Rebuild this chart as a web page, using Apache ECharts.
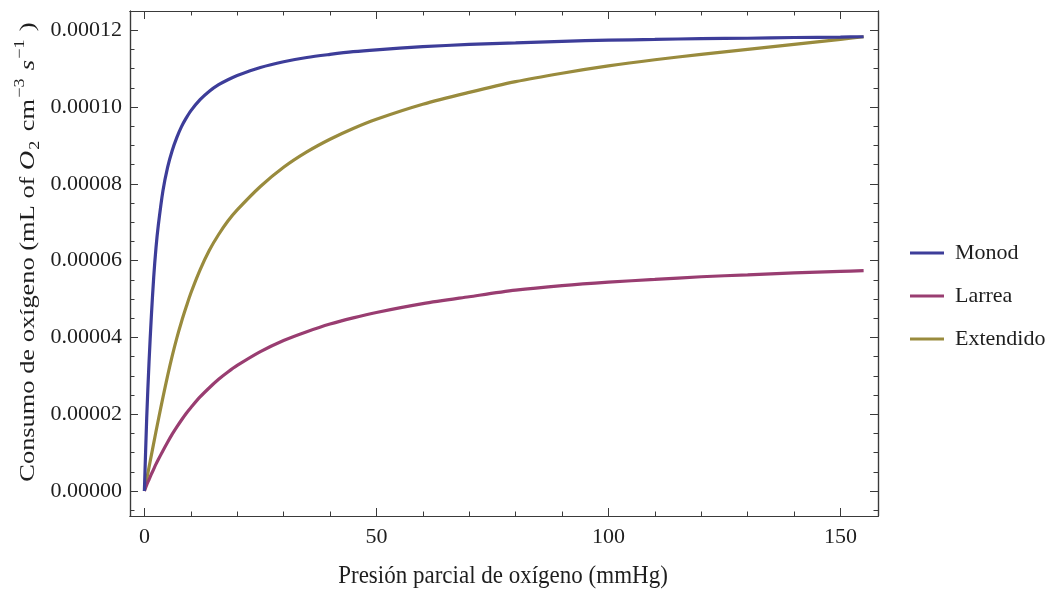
<!DOCTYPE html>
<html>
<head>
<meta charset="utf-8">
<title>Consumo de oxígeno</title>
<script src="https://cdn.jsdelivr.net/npm/echarts@6/dist/echarts.min.js"></script>
<style>
  html, body { margin: 0; padding: 0; background: #ffffff; }
  #chart { width: 1051px; height: 590px; }
</style>
</head>
<body>
<div id="chart"></div>
<script>
// Oxygen partial pressure (mmHg) shared by the three uptake curves
const pressure = [0, 0.5, 1, 1.5, 2, 2.5, 3, 4, 5, 6, 7, 8, 9, 10, 12, 14, 16, 18, 20, 25, 30, 35, 40, 45, 50, 60, 70, 80, 90, 100, 110, 120, 130, 140, 150, 155];

// Oxygen consumption (mL of O2 cm^-3 s^-1) for each model
const monod = [0, 0.0000190, 0.0000335, 0.0000455, 0.0000555, 0.0000633, 0.0000692, 0.0000782, 0.0000843, 0.0000887, 0.0000921, 0.0000949, 0.0000971, 0.0000990, 0.0001019, 0.0001041, 0.0001058, 0.0001071, 0.0001082, 0.0001103, 0.0001118, 0.0001129, 0.0001137, 0.0001144, 0.0001149, 0.0001157, 0.0001163, 0.0001167, 0.0001171, 0.0001174, 0.0001176, 0.0001178, 0.0001179, 0.0001181, 0.0001182, 0.0001183];
const larrea = [0, 0.0000016, 0.0000030, 0.0000044, 0.0000057, 0.0000070, 0.0000082, 0.0000105, 0.0000127, 0.0000148, 0.0000167, 0.0000185, 0.0000202, 0.0000217, 0.0000245, 0.0000269, 0.0000291, 0.0000310, 0.0000327, 0.0000363, 0.0000392, 0.0000415, 0.0000435, 0.0000451, 0.0000465, 0.0000488, 0.0000506, 0.0000523, 0.0000535, 0.0000544, 0.0000551, 0.0000558, 0.0000563, 0.0000568, 0.0000572, 0.0000574];
const extendido = [0, 0.0000031, 0.0000062, 0.0000093, 0.0000124, 0.0000155, 0.0000185, 0.0000244, 0.0000300, 0.0000352, 0.0000399, 0.0000441, 0.0000479, 0.0000515, 0.0000576, 0.0000627, 0.0000668, 0.0000703, 0.0000732, 0.0000793, 0.0000843, 0.0000883, 0.0000916, 0.0000944, 0.0000968, 0.0001007, 0.0001038, 0.0001066, 0.0001088, 0.0001107, 0.0001123, 0.0001137, 0.0001150, 0.0001163, 0.0001176, 0.0001183];

const seriesNames = ['Monod', 'Larrea', 'Extendido'];
const seriesColors = ['#3d3d99', '#993d71', '#998b3d'];

// Tick positions
const xMajorTicks = [0, 50, 100, 150];
const xMinorTicks = [10, 20, 30, 40, 60, 70, 80, 90, 110, 120, 130, 140];
const yMajorTicks = [0, 0.00002, 0.00004, 0.00006, 0.00008, 0.00010, 0.00012];
const yMinorTicks = [-0.000005, 0.000005, 0.00001, 0.000015, 0.000025, 0.00003, 0.000035, 0.000045, 0.00005, 0.000055, 0.000065, 0.00007, 0.000075, 0.000085, 0.00009, 0.000095, 0.000105, 0.00011, 0.000115];

const xTitle = 'Presión parcial de oxígeno (mmHg)';

const frameColor = '#3a3a3a';
const textColor = '#1e1e1e';
const serif = '"Liberation Serif", "DejaVu Serif", serif';
const X_MIN = -3.1, X_MAX = 158.1;
const Y_MIN = -0.0000065, Y_MAX = 0.000125;

function xAxisDef(position, ticks, len, withLabels) {
  return {
    type: 'value', position: position, min: X_MIN, max: X_MAX,
    axisLine: { show: true, onZero: false, lineStyle: { color: frameColor, width: 1.2 } },
    axisTick: { show: true, inside: true, length: len, customValues: ticks, lineStyle: { color: frameColor, width: 1 } },
    axisLabel: withLabels
      ? { show: true, customValues: ticks, margin: 10, color: textColor, fontFamily: serif, fontSize: 22 }
      : { show: false },
    splitLine: { show: false }
  };
}

function yAxisDef(position, ticks, len, withLabels) {
  return {
    type: 'value', position: position, min: Y_MIN, max: Y_MAX,
    axisLine: { show: true, onZero: false, lineStyle: { color: frameColor, width: 1.2 } },
    axisTick: { show: true, inside: true, length: len, customValues: ticks, lineStyle: { color: frameColor, width: 1 } },
    axisLabel: withLabels
      ? { show: true, customValues: ticks, margin: 8, color: textColor, fontFamily: serif, fontSize: 22,
          formatter: v => Math.abs(v) < 1e-12 ? '0.00000' : v.toFixed(5) }
      : { show: false },
    splitLine: { show: false }
  };
}

const chart = echarts.init(document.getElementById('chart'), null, { renderer: 'canvas' });

chart.setOption({
  backgroundColor: '#ffffff',
  animation: false,
  grid: { left: 130, top: 11, right: 173, bottom: 74, containLabel: false },
  xAxis: [
    xAxisDef('bottom', xMajorTicks, 8, true),
    xAxisDef('bottom', xMinorTicks, 4.5, false),
    xAxisDef('top', xMajorTicks, 8, false),
    xAxisDef('top', xMinorTicks, 4.5, false)
  ],
  yAxis: [
    yAxisDef('left', yMajorTicks, 8, true),
    yAxisDef('left', yMinorTicks, 4.5, false),
    yAxisDef('right', yMajorTicks, 8, false),
    yAxisDef('right', yMinorTicks, 4.5, false)
  ],
  legend: {
    orient: 'vertical', left: 910, top: 242, padding: 0,
    itemWidth: 34, itemHeight: 21, itemGap: 21,
    icon: 'path://M0,9 L34,9 L34,12 L0,12 Z',
    textStyle: { fontFamily: serif, fontSize: 22, lineHeight: 22, color: textColor, padding: [0, 0, 0, 6] },
    data: seriesNames
  },
  graphic: [
    {
      type: 'text', x: 503, y: 576, scaleY: 1.1,
      style: { text: xTitle, fontFamily: serif, fontSize: 23, fill: textColor, align: 'center', verticalAlign: 'middle' }
    },
    {
      type: 'text', x: 28, y: 252, rotation: Math.PI / 2, scaleX: 1.2,
      style: {
        text: '{n|Consumo de oxígeno (mL of }{i|O}{sub|2}{n|cm}{sup|−3}{i|s}{sup|−1}{n|)}',
        align: 'center', verticalAlign: 'middle', fill: textColor,
        rich: {
          n: { fontFamily: serif, fontSize: 22, lineHeight: 30, fill: textColor, verticalAlign: 'middle' },
          i: { fontFamily: serif, fontSize: 22, fontStyle: 'italic', lineHeight: 30, fill: textColor, verticalAlign: 'middle' },
          sub: { fontFamily: serif, fontSize: 15, lineHeight: 15, fill: textColor, verticalAlign: 'bottom', padding: [0, 8, 0, 1] },
          sup: { fontFamily: serif, fontSize: 15, lineHeight: 15, fill: textColor, verticalAlign: 'top', padding: [0, 7, 0, 1] }
        }
      }
    }
  ],
  series: [monod, larrea, extendido].map((vals, k) => ({
    name: seriesNames[k],
    type: 'line',
    xAxisIndex: 0, yAxisIndex: 0,
    data: pressure.map((p, i) => [p, vals[i]]),
    symbol: 'none',
    smooth: 0.3,
    color: seriesColors[k],
    lineStyle: { color: seriesColors[k], width: 3.2 },
    z: 3 - k
  }))
});
</script>
</body>
</html>
